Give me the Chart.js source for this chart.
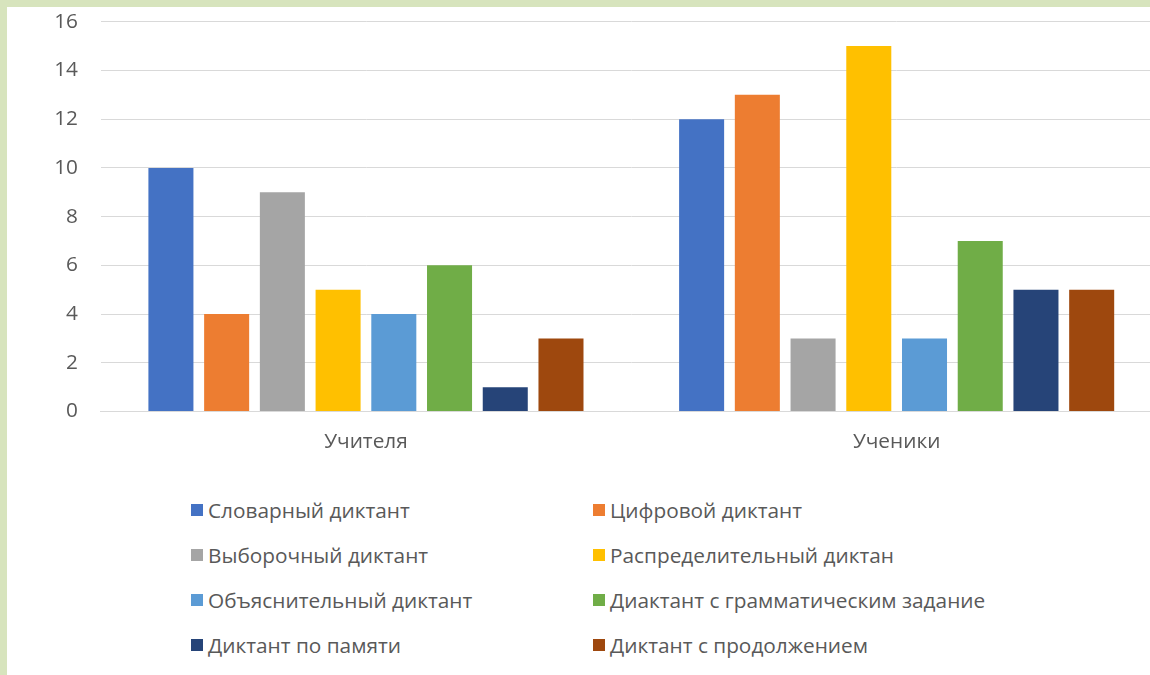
<!DOCTYPE html>
<html lang="ru">
<head>
<meta charset="utf-8">
<title>Виды диктантов</title>
<script src="https://cdn.jsdelivr.net/npm/chart.js@4/dist/chart.umd.min.js"></script>
<style>
    html, body {
        margin: 0;
        padding: 0;
        width: 1150px;
        height: 675px;
        overflow: hidden;
        background: #d7e4bd;
        font-family: "Open Sans", "Noto Sans", sans-serif;
    }
    .ramme {
        position: absolute;
        left: 7px;
        top: 7px;
        width: 1143px;
        height: 668px;
        background: #ffffff;
        overflow: hidden;
    }
    #graf-wrap {
        position: absolute;
        left: 0;
        top: 0;
        width: 1155px;
        height: 448px;
    }
    #legende {
        position: absolute;
        left: 184px;
        top: 481px;
        display: grid;
        grid-template-columns: 402px 402px;
        grid-auto-rows: 44.8px;
    }
    .legende-punkt {
        display: flex;
        align-items: center;
        font-size: 20.8px;
        color: #595959;
        white-space: nowrap;
    }
    .legende-boks {
        width: 12px;
        height: 12px;
        margin-right: 5px;
        flex: none;
    }
</style>
</head>
<body>
<div class="ramme">
    <div id="graf-wrap"><canvas id="graf" width="1155" height="448"></canvas></div>
    <div id="legende"></div>
</div>
<script>
/* kategorier på x-aksen */
const categories = ['Учителя', 'Ученики'];

/* navne på serierne (en serie per diktanttype) */
const seriesNames = [
    'Словарный диктант',
    'Цифровой диктант',
    'Выборочный диктант',
    'Распределительный диктан',
    'Объяснительный диктант',
    'Диактант с грамматическим задание',
    'Диктант по памяти',
    'Диктант с продолжением'
];

/* værdier, samme rækkefølge som seriesNames */
const teacherValues = [10, 4, 9, 5, 4, 6, 1, 3];
const studentValues = [12, 13, 3, 15, 3, 7, 5, 5];

/* y-aksens skala */
const yTicks = [0, 2, 4, 6, 8, 10, 12, 14, 16];

const seriesColors = ['#4472c4', '#ed7d31', '#a5a5a5', '#ffc000', '#5b9bd5', '#70ad47', '#264478', '#9e480e'];

const textColor = '#595959';
const gridColor = '#d9d9d9';
const font = { family: '"Open Sans", "Noto Sans", sans-serif', size: 20.8 };

/* bygger et dataset per serie ud fra de to værdi-arrays */
const datasets = [];
for (let i = 0; i < seriesNames.length; i++) {
    datasets.push({
        label: seriesNames[i],
        data: [teacherValues[i], studentValues[i]],
        backgroundColor: seriesColors[i],
        borderWidth: 0,
        categoryPercentage: 0.84,
        barPercentage: 0.808
    });
}

const graf = new Chart(document.getElementById('graf'), {
    type: 'bar',
    data: { labels: categories, datasets: datasets },
    options: {
        responsive: false,
        animation: false,
        layout: { padding: { top: 14.7, right: 0, bottom: 0, left: 0 } },
        plugins: {
            legend: { display: false },
            tooltip: { enabled: false }
        },
        scales: {
            x: {
                /* Chart.js lægger padding til både over og under labels; kun den øverste ønskes */
                afterFit: (scale) => { scale.height = 43.5; },
                grid: { display: false, drawTicks: false },
                border: { display: true, color: gridColor, width: 1 },
                ticks: { color: textColor, font: font, padding: 18.5 }
            },
            y: {
                min: yTicks[0],
                max: yTicks[yTicks.length - 1],
                /* fast bredde; tick-padding må ikke skubbe plotområdet lodret */
                afterFit: (scale) => {
                    scale.width = 93.6;
                    scale.paddingTop = 12;
                    scale.paddingBottom = 12;
                },
                afterBuildTicks: (scale) => { scale.ticks = yTicks.map(v => ({ value: v })); },
                grid: { color: gridColor, lineWidth: 1, drawTicks: false },
                border: { display: false },
                ticks: { color: textColor, font: font, padding: 22.6 }
            }
        }
    }
});

/* legenden tegnes som HTML i to kolonner, ligesom i originalen */
const legende = document.getElementById('legende');
graf.data.datasets.forEach((ds) => {
    const punkt = document.createElement('div');
    punkt.className = 'legende-punkt';
    const boks = document.createElement('span');
    boks.className = 'legende-boks';
    boks.style.background = ds.backgroundColor;
    const tekst = document.createElement('span');
    tekst.textContent = ds.label;
    punkt.appendChild(boks);
    punkt.appendChild(tekst);
    legende.appendChild(punkt);
});
</script>
</body>
</html>
